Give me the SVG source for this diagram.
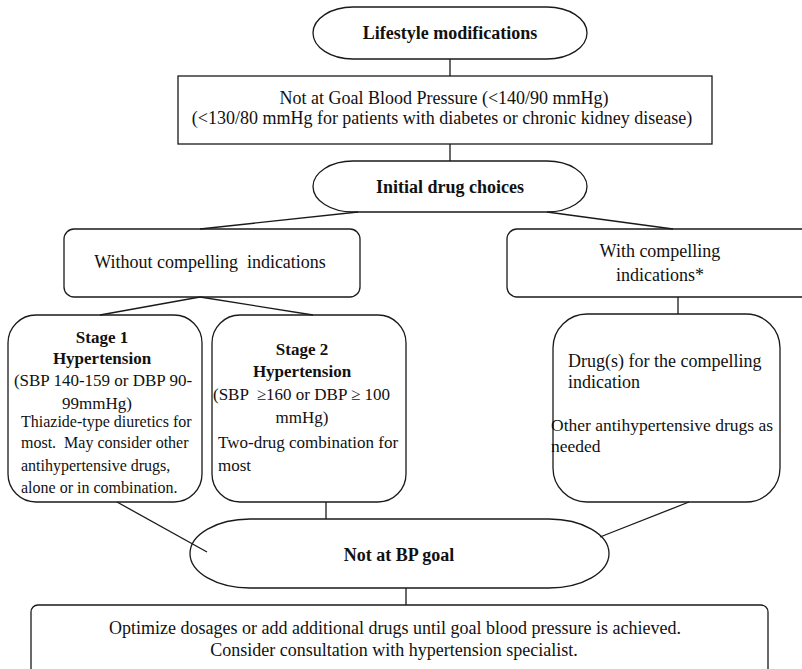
<svg xmlns="http://www.w3.org/2000/svg" width="802" height="669" viewBox="0 0 802 669">
  <style>
    .box { fill: #fff; stroke: #1a1a1a; stroke-width: 1.3; }
    .conn line { stroke: #1a1a1a; stroke-width: 1.3; }
    text { font-family: "Liberation Serif", "Times New Roman", serif; fill: #111; }
    .c { text-anchor: middle; }
    .b { font-weight: bold; }
    .s18 { font-size: 18px; }
    .s175 { font-size: 17.5px; }
    .s17 { font-size: 17px; }
    .s16 { font-size: 16px; }
  </style>
  <rect width="802" height="669" fill="#fff"/>

  <g id="lifestyle">
    <rect class="box" x="313" y="7" width="274" height="52" rx="40" ry="26"/>
    <text class="c b s18" x="450" y="39">Lifestyle modifications</text>
  </g>

  <g id="not-at-goal">
    <rect class="box" x="178" y="76" width="534" height="68"/>
    <text class="c s18" x="444" y="104">Not at Goal Blood Pressure (&lt;140/90 mmHg)</text>
    <text class="c s18" x="442" y="124">(&lt;130/80 mmHg for patients with diabetes or chronic kidney disease)</text>
  </g>

  <g id="initial">
    <rect class="box" x="313" y="161" width="274" height="51" rx="40" ry="25.5"/>
    <text class="c b s18" x="450" y="193">Initial drug choices</text>
  </g>

  <g id="without">
    <rect class="box" x="64" y="229" width="296" height="68" rx="10"/>
    <text class="c s18" x="210" y="268" xml:space="preserve">Without compelling  indications</text>
  </g>

  <g id="with">
    <rect class="box" x="507" y="229" width="310" height="68" rx="10"/>
    <text class="c s18" x="660" y="257">With compelling</text>
    <text class="c s18" x="660" y="281">indications*</text>
  </g>

  <g id="stage1">
    <rect class="box" x="8" y="315" width="194" height="187" rx="28"/>
    <text class="c b s17" x="102" y="343">Stage 1</text>
    <text class="c b s17" x="102" y="364">Hypertension</text>
    <text class="c s17" x="103" y="386">(SBP 140-159 or DBP 90-</text>
    <text class="c s17" x="97" y="409">99mmHg)</text>
    <text class="s16" x="21" y="427">Thiazide-type diuretics for</text>
    <text class="s16" x="21" y="448" xml:space="preserve">most.  May consider other</text>
    <text class="s16" x="21" y="471">antihypertensive drugs,</text>
    <text class="s16" x="21" y="493">alone or in combination.</text>
  </g>

  <g id="stage2">
    <rect class="box" x="212" y="315" width="194" height="187" rx="28"/>
    <text class="c b s17" x="302" y="355">Stage 2</text>
    <text class="c b s17" x="302" y="377">Hypertension</text>
    <text class="s17" x="213" y="400" xml:space="preserve">(SBP  ≥160 or DBP ≥ 100</text>
    <text class="c s17" x="302" y="423">mmHg)</text>
    <text class="s17" x="218" y="448">Two-drug combination for</text>
    <text class="s17" x="218" y="471">most</text>
  </g>

  <g id="compelling-drugs">
    <rect class="box" x="553" y="314" width="227" height="188" rx="34"/>
    <text class="s18" x="568" y="367">Drug(s) for the compelling</text>
    <text class="s18" x="568" y="388">indication</text>
    <text class="s175" x="551" y="431">Other antihypertensive drugs as</text>
    <text class="s175" x="551" y="452">needed</text>
  </g>

  <g id="not-at-bp-goal">
    <rect class="box" x="190" y="519" width="419" height="69" rx="60" ry="34.5"/>
    <text class="c b s18" x="399" y="561">Not at BP goal</text>
  </g>

  <g id="optimize">
    <rect class="box" x="31" y="605" width="737" height="80" rx="7"/>
    <text class="c s18" x="395" y="634">Optimize dosages or add additional drugs until goal blood pressure is achieved.</text>
    <text class="c s18" x="394" y="656">Consider consultation with hypertension specialist.</text>
  </g>

  <g id="connectors" class="conn">
    <line x1="450" y1="59" x2="450" y2="76"/>
    <line x1="450" y1="144" x2="450" y2="161"/>
    <line x1="358" y1="212" x2="200" y2="229"/>
    <line x1="547" y1="212" x2="673" y2="229"/>
    <line x1="200" y1="297" x2="100" y2="315"/>
    <line x1="200" y1="297" x2="313" y2="315"/>
    <line x1="678" y1="297" x2="678" y2="314"/>
    <line x1="117" y1="502" x2="207" y2="552"/>
    <line x1="326" y1="502" x2="326" y2="519"/>
    <line x1="689" y1="502" x2="600" y2="537"/>
    <line x1="406" y1="588" x2="406" y2="605"/>
  </g>
</svg>
